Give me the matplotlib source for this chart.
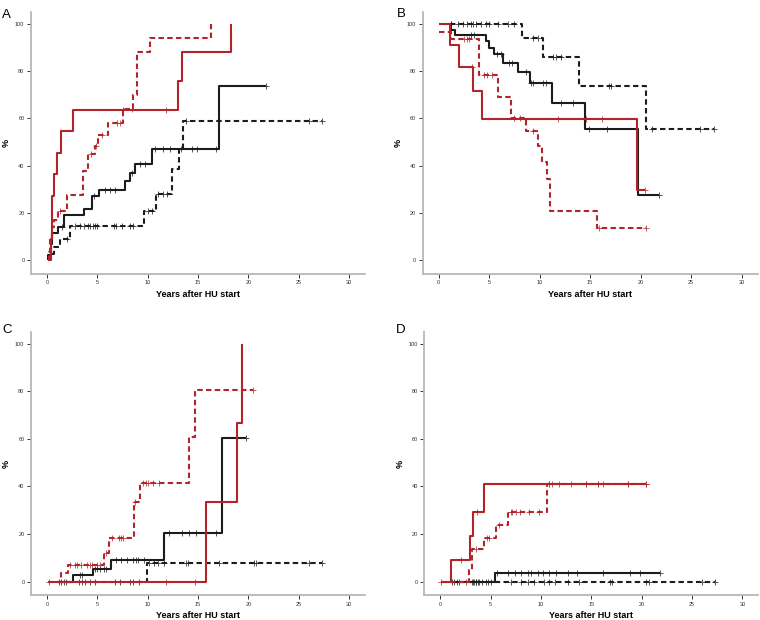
# Kaplan-Meier style step curves, four panels (A-D)
# red = one group, black = the other; solid / dashed = subgroups

import numpy as np
import matplotlib
matplotlib.use('Agg')
import matplotlib.pyplot as plt

plt.rcParams['font.family'] = ['Liberation Sans', 'DejaVu Sans']

# -------- data ----------------------------------------
# each curve: event times, values after events, censor times (start/end below)

# Panel A
a_rs_t = [0.45, 0.5, 0.7, 1.0, 1.4, 2.6, 13.0, 13.4, 18.3]
a_rs_v = [9.1, 27.3, 36.4, 45.5, 54.5, 63.6, 75.8, 87.9, 100]
a_rs_c = [7.6, 11.85]
a_rd_t = [0.2, 0.35, 0.5, 0.75, 1.1, 2.0, 3.6, 4.1, 4.8, 5.1, 6.1, 7.55, 8.55, 8.95, 10.2, 16.3]
a_rd_v = [3.4, 9.0, 14.0, 17.2, 20.7, 27.6, 37.9, 44.8, 48.3, 53.0, 58.0, 63.8, 70.0, 87.9, 94.0, 100]
a_rd_c = [1.3, 4.4, 4.9, 5.5, 7.0, 7.3, 8.5]
a_bs_t = [0.15, 0.45, 0.55, 1.1, 1.75, 3.7, 4.5, 5.2, 7.75, 8.25, 8.8, 10.4, 17.1]
a_bs_v = [2.4, 7.0, 11.6, 14.0, 19.0, 21.7, 27.0, 29.7, 33.3, 37.0, 40.7, 47.0, 73.5]
a_bs_c = [1.5, 4.7, 5.8, 6.3, 6.8, 8.5, 9.3, 9.7, 10.7, 11.5, 12.2, 13.3, 14.4, 14.9, 16.75, 21.8]
a_bd_t = [0.3, 0.7, 1.3, 2.35, 9.6, 10.8, 12.45, 13.1, 13.55]
a_bd_v = [2.5, 5.6, 8.8, 14.7, 21.0, 28.2, 38.7, 47.3, 59.0]
a_bd_c = [2.0, 2.8, 3.3, 3.7, 4.1, 4.3, 4.6, 4.8, 5.0, 6.7, 6.9, 7.5, 8.3, 8.6,
          10.0, 10.4, 11.0, 11.5, 11.9, 13.8, 26.0, 27.35]

# Panel B
b_rs_t = [1.1, 2.0, 3.4, 4.3, 19.6]
b_rs_v = [90.9, 81.8, 71.6, 59.7, 29.8]
b_rs_c = [3.3, 11.8, 14.6, 16.2, 20.4]
b_rd_t = [1.2, 3.95, 5.9, 7.15, 8.6, 9.8, 10.2, 10.7, 11.05, 15.7]
b_rd_v = [93.3, 78.5, 69.0, 60.0, 54.6, 48.5, 41.4, 34.5, 20.8, 13.8]
b_rd_c = [2.5, 2.8, 3.0, 4.5, 4.75, 5.3, 7.5, 8.1, 9.3, 15.9, 20.5]
b_bs_t = [1.25, 1.6, 4.7, 5.0, 5.5, 6.4, 7.9, 9.0, 11.2, 14.5, 19.7]
b_bs_v = [97.5, 95.4, 92.6, 89.5, 87.0, 83.5, 79.6, 75.0, 66.6, 55.5, 27.7]
b_bs_c = [1.2, 3.2, 3.5, 5.8, 6.2, 7.0, 7.3, 8.6, 9.1, 9.3, 10.3, 10.6, 12.1, 13.3,
          14.9, 16.7, 21.8]
b_bd_t = [8.25, 10.3, 13.85, 20.5]
b_bd_v = [94.0, 86.0, 73.8, 55.3]
b_bd_c = [1.2, 1.9, 2.4, 2.8, 3.2, 3.4, 3.7, 4.2, 4.7, 5.0, 5.9, 6.9, 7.5, 9.3, 9.8,
          11.3, 11.6, 12.1, 16.9, 17.1, 21.1, 25.9, 27.3]

# Panel C
c_rs_t = [15.8, 18.85, 19.35]
c_rs_v = [33.3, 66.7, 100]
c_rs_c = [0.2, 11.8, 14.7]
c_rd_t = [1.45, 2.1, 5.65, 6.15, 8.65, 9.3, 14.1, 14.75]
c_rd_v = [3.4, 6.9, 12.2, 18.2, 33.3, 41.4, 60.7, 80.4]
c_rd_c = [2.35, 2.75, 2.95, 3.35, 4.0, 4.25, 4.5, 5.0, 5.3, 5.9, 6.5, 7.15, 7.4, 7.6,
          8.8, 9.5, 9.8, 10.0, 10.5, 11.1, 20.45]
c_bs_t = [2.6, 4.6, 6.4, 11.6, 17.35]
c_bs_v = [2.6, 5.4, 9.1, 20.4, 60.2]
c_bs_c = [1.2, 1.45, 1.7, 1.9, 3.3, 3.5, 4.8, 5.0, 5.3, 5.7, 5.9, 6.9, 7.4, 8.0, 8.6,
          8.9, 9.1, 9.6, 12.1, 13.4, 14.1, 14.8, 16.75, 19.8]
c_bd_t = [9.9]
c_bd_v = [7.7]
c_bd_c = [3.2, 3.5, 3.8, 4.3, 4.8, 6.8, 7.3, 8.3, 8.6, 9.2, 10.1, 10.6, 11.0, 11.6,
          13.8, 14.0, 17.1, 20.6, 20.8, 26.0, 27.3]

# Panel D
d_rs_t = [1.1, 2.95, 3.3, 4.3]
d_rs_v = [9.1, 19.2, 29.3, 41.1]
d_rs_c = [0.05, 2.1, 3.7, 10.8, 11.8, 14.5, 15.7, 16.2, 18.6, 20.4]
d_rd_t = [2.9, 3.2, 4.3, 5.55, 6.7, 10.6]
d_rd_v = [4.7, 13.6, 18.2, 23.6, 29.4, 41.1]
d_rd_c = [2.6, 3.6, 4.6, 4.8, 5.8, 7.0, 7.1, 7.5, 7.9, 8.8, 9.8, 10.8, 11.1, 13.0,
          14.5, 15.7, 18.6, 20.4]
d_bs_t = [5.4]
d_bs_v = [3.6]
d_bs_c = [1.2, 1.4, 1.65, 1.9, 3.2, 3.4, 3.6, 3.8, 4.2, 4.5, 4.7, 5.05, 5.6, 6.7, 7.4,
          8.0, 8.7, 9.0, 9.7, 10.2, 10.8, 11.5, 12.7, 13.6, 16.2, 18.8, 19.8, 21.8]
d_bd_t = []
d_bd_v = []
d_bd_c = [3.3, 3.6, 3.9, 7.0, 8.0, 8.7, 9.35, 10.3, 10.8, 11.4, 12.7, 13.8, 16.85,
          17.1, 20.4, 20.7, 26.0, 27.3]

# curve start / end: (start time, start value, end time)
a_se = {'rs': (0.3, 0, 18.3), 'rd': (0.15, 0, 16.3), 'bs': (0.1, 0, 21.8), 'bd': (0.2, 0, 27.35)}
b_se = {'rs': (0.0, 100, 20.4), 'rd': (0.0, 96.6, 20.5), 'bs': (1.15, 100, 21.8), 'bd': (1.15, 100, 27.3)}
c_se = {'rs': (0.1, 0, 19.35), 'rd': (0.1, 0, 20.45), 'bs': (1.1, 0, 19.8), 'bd': (1.1, 0, 27.3)}
d_se = {'rs': (0.05, 0, 20.4), 'rd': (0.05, 0, 20.4), 'bs': (1.1, 0, 21.8), 'bd': (1.1, 0, 27.3)}

xticks = [0, 5, 10, 15, 20, 25, 30]
yticks = [0, 20, 40, 60, 80, 100]

RED = '#b3242a'
BLK = '#1c1c1c'

# -------- helpers --------------------

def km_curve(ax, se, t, v, cens, color, dashed):
	t0, v0, t_end = se
	xs = [t0] + list(t) + [t_end]
	ys = [v0] + list(v) + [v[-1] if len(v) else v0]
	ls = (0, (2.6, 1.6)) if dashed else '-'
	ax.plot(xs, ys, drawstyle='steps-post', color=color, lw=1.5, ls=ls,
			solid_capstyle='butt', dash_capstyle='butt')
	# censor marks sit on the curve
	tt = np.array(t, dtype=float)
	vv = np.array([v0] + list(v), dtype=float)
	c = np.array(cens, dtype=float)
	idx = np.searchsorted(tt, c, side='right')
	ax.plot(c, vv[idx], ls='none', marker='+', ms=4.5, mew=0.7, color=color, alpha=0.75)

def style_axes(ax):
	ax.set_xlim(-1.6, 31.6)
	ax.set_ylim(-5.8, 105)
	for s in ['top', 'right']:
		ax.spines[s].set_visible(False)
	for s in ['left', 'bottom']:
		ax.spines[s].set_color('#b8b8b8')
		ax.spines[s].set_linewidth(1.3)
	ax.set_xticks(xticks)
	ax.set_yticks(yticks)
	ax.tick_params(axis='both', length=3, width=0.7, color='#333333',
				   labelsize=4, labelcolor='#333333', pad=1.5)
	ax.set_xlabel('Years after HU start', fontsize=6.5, fontweight='bold', labelpad=3.5)
	ax.set_ylabel('%', fontsize=6.5, fontweight='bold', labelpad=3)

# -------- figure --------------------

fig = plt.figure(figsize=(7.6, 6.2), dpi=100)

panels = [
	('A', [0.0404, 0.558, 0.440, 0.423], a_se,
	 [(a_bd_t, a_bd_v, a_bd_c, 'bd'), (a_bs_t, a_bs_v, a_bs_c, 'bs'),
	  (a_rd_t, a_rd_v, a_rd_c, 'rd'), (a_rs_t, a_rs_v, a_rs_c, 'rs')]),
	('B', [0.556, 0.558, 0.441, 0.423], b_se,
	 [(b_bd_t, b_bd_v, b_bd_c, 'bd'), (b_bs_t, b_bs_v, b_bs_c, 'bs'),
	  (b_rd_t, b_rd_v, b_rd_c, 'rd'), (b_rs_t, b_rs_v, b_rs_c, 'rs')]),
	('C', [0.0404, 0.0398, 0.440, 0.425], c_se,
	 [(c_bd_t, c_bd_v, c_bd_c, 'bd'), (c_bs_t, c_bs_v, c_bs_c, 'bs'),
	  (c_rd_t, c_rd_v, c_rd_c, 'rd'), (c_rs_t, c_rs_v, c_rs_c, 'rs')]),
	('D', [0.558, 0.0398, 0.440, 0.425], d_se,
	 [(d_bd_t, d_bd_v, d_bd_c, 'bd'), (d_bs_t, d_bs_v, d_bs_c, 'bs'),
	  (d_rd_t, d_rd_v, d_rd_c, 'rd'), (d_rs_t, d_rs_v, d_rs_c, 'rs')]),
]

letter_pos = {'A': (0.003, 0.985), 'B': (0.522, 0.987), 'C': (0.003, 0.478), 'D': (0.521, 0.478)}

for name, rect, se, curves in panels:
	ax = fig.add_axes(rect)
	for t, v, c, key in curves:
		color = RED if key[0] == 'r' else BLK
		km_curve(ax, se[key], t, v, c, color, key[1] == 'd')
	style_axes(ax)
	fig.text(letter_pos[name][0], letter_pos[name][1], name, fontsize=9.5, va='top', ha='left')

plt.savefig('out.png', dpi=100)
plt.close('all')
